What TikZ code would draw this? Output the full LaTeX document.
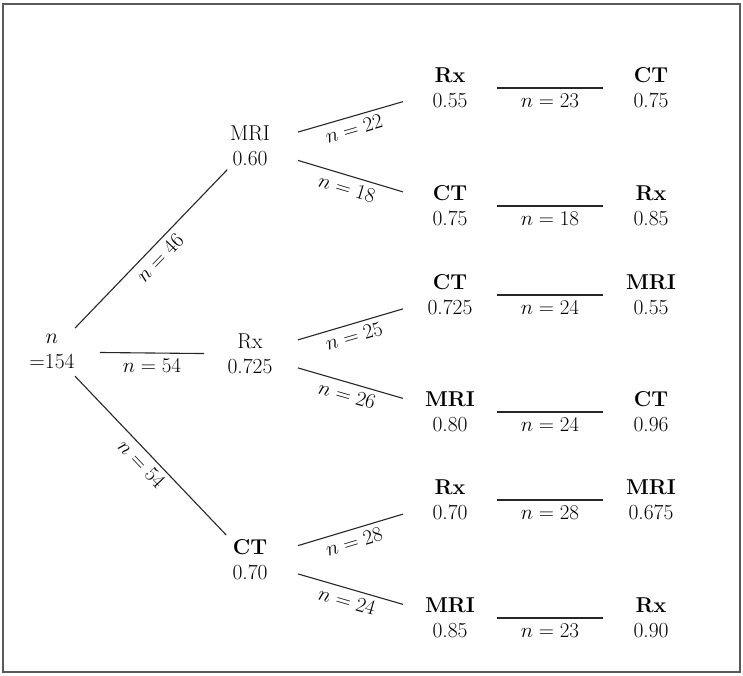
\RequirePackage{fix-cm}
\documentclass[tikz,border=0pt]{standalone}
\usetikzlibrary{calc}
\begin{document}
\begin{tikzpicture}[x=1pt,y=-1pt,
  every node/.style={font=\fontsize{21.5}{25}\selectfont},
  st/.style={align=center,inner sep=1pt},
  edge/.style={draw=black!85,line width=1.1pt},
  lab/.style={font=\fontsize{21}{24}\selectfont,inner sep=5pt}]
\useasboundingbox (0,0) rectangle (743,675);
\draw[black!65,line width=1.6pt] (3,4) rectangle (740,672);
% root
\node[st] (root) at (52,352) {$n$\\$=$154};
% level 1
\node[st] (a1) at (250,146) {MRI\\0.60};
\node[st] (a2) at (250,354) {Rx\\0.725};
\node[st] (a3) at (250,560) {\textbf{CT}\\0.70};
% level 2
\node[st] (b1) at (450,88) {\textbf{Rx}\\0.55};
\node[st] (b2) at (450,206) {\textbf{CT}\\0.75};
\node[st] (b3) at (450,295) {\textbf{CT}\\0.725};
\node[st] (b4) at (450,412) {\textbf{MRI}\\0.80};
\node[st] (b5) at (450,500) {\textbf{Rx}\\0.70};
\node[st] (b6) at (450,618) {\textbf{MRI}\\0.85};
% level 3
\node[st] (c1) at (651,88) {\textbf{CT}\\0.75};
\node[st] (c2) at (651,206) {\textbf{Rx}\\0.85};
\node[st] (c3) at (651,295) {\textbf{MRI}\\0.55};
\node[st] (c4) at (651,412) {\textbf{CT}\\0.96};
\node[st] (c5) at (651,500) {\textbf{MRI}\\0.675};
\node[st] (c6) at (651,618) {\textbf{Rx}\\0.90};
% root edges
\draw[edge] ($(root)!0.116!(a1)$) -- node[lab,sloped,below]{$n=46$} ($(root)!0.885!(a1)$);
\draw[edge] ($(root)!0.242!(a2)$) -- node[lab,below]{$n=54$} ($(root)!0.768!(a2)$);
\draw[edge] ($(root)!0.116!(a3)$) -- node[lab,sloped,below]{$n=54$} ($(root)!0.88!(a3)$);
% level1 -> level2
\draw[edge] ($(a1)!0.24!(b1)$) -- node[lab,sloped,below]{$n=22$} ($(a1)!0.765!(b1)$);
\draw[edge] ($(a1)!0.24!(b2)$) -- node[lab,sloped,below]{$n=18$} ($(a1)!0.765!(b2)$);
\draw[edge] ($(a2)!0.24!(b3)$) -- node[lab,sloped,below]{$n=25$} ($(a2)!0.765!(b3)$);
\draw[edge] ($(a2)!0.24!(b4)$) -- node[lab,sloped,below]{$n=26$} ($(a2)!0.765!(b4)$);
\draw[edge] ($(a3)!0.24!(b5)$) -- node[lab,sloped,below]{$n=28$} ($(a3)!0.765!(b5)$);
\draw[edge] ($(a3)!0.24!(b6)$) -- node[lab,sloped,below]{$n=24$} ($(a3)!0.765!(b6)$);
% level2 -> level3
\draw[edge] ($(b1)!0.234!(c1)$) -- node[lab,below]{$n=23$} ($(b1)!0.761!(c1)$);
\draw[edge] ($(b2)!0.234!(c2)$) -- node[lab,below]{$n=18$} ($(b2)!0.761!(c2)$);
\draw[edge] ($(b3)!0.234!(c3)$) -- node[lab,below]{$n=24$} ($(b3)!0.761!(c3)$);
\draw[edge] ($(b4)!0.234!(c4)$) -- node[lab,below]{$n=24$} ($(b4)!0.761!(c4)$);
\draw[edge] ($(b5)!0.234!(c5)$) -- node[lab,below]{$n=28$} ($(b5)!0.761!(c5)$);
\draw[edge] ($(b6)!0.234!(c6)$) -- node[lab,below]{$n=23$} ($(b6)!0.761!(c6)$);
\end{tikzpicture}
\end{document}
